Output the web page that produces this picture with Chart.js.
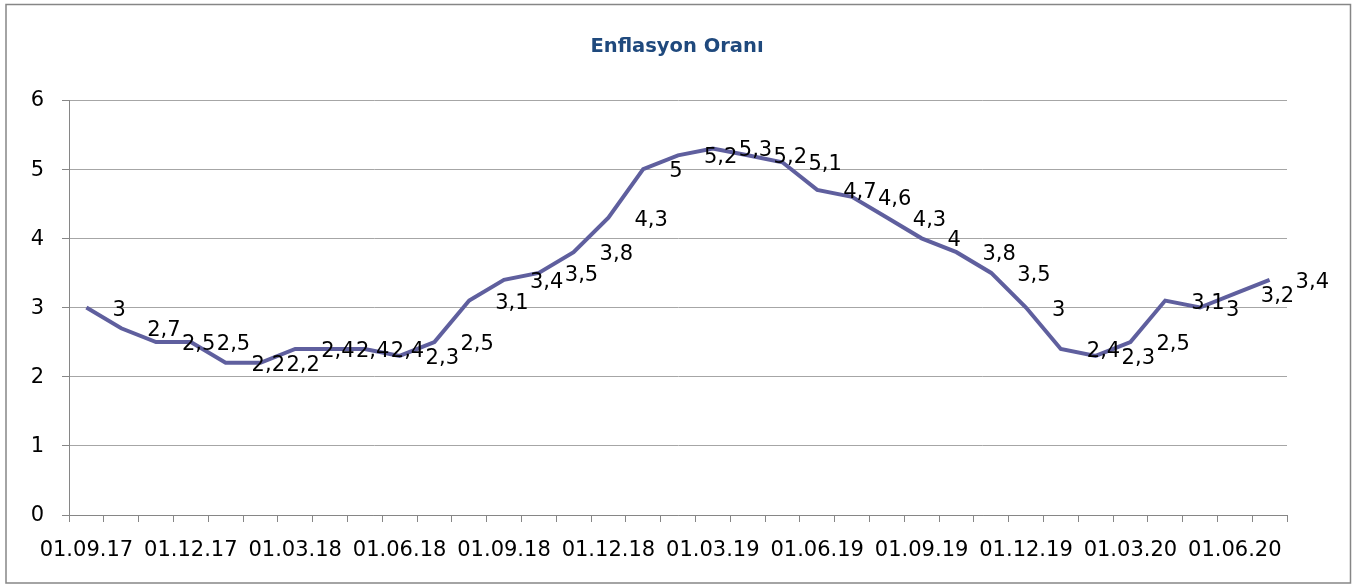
<!DOCTYPE html>
<html>
<head>
<meta charset="utf-8">
<script src="https://cdn.jsdelivr.net/npm/chart.js@4/dist/chart.umd.min.js"></script>
<style>
    html, body { margin: 0; padding: 0; background: #fff; }
    #wrap { width: 1360px; height: 584px; }
</style>
</head>
<body>
<div id="wrap"><canvas id="inflationChart" width="1360" height="584"></canvas></div>
<script>
// Chart data
const chartTitle = 'Enflasyon Oranı';
const months = [
    '01.09.17', '01.10.17', '01.11.17', '01.12.17', '01.01.18', '01.02.18', '01.03.18',
    '01.04.18', '01.05.18', '01.06.18', '01.07.18', '01.08.18', '01.09.18', '01.10.18',
    '01.11.18', '01.12.18', '01.01.19', '01.02.19', '01.03.19', '01.04.19', '01.05.19',
    '01.06.19', '01.07.19', '01.08.19', '01.09.19', '01.10.19', '01.11.19', '01.12.19',
    '01.01.20', '01.02.20', '01.03.20', '01.04.20', '01.05.20', '01.06.20', '01.07.20'
];
const inflation = [
    3, 2.7, 2.5, 2.5, 2.2, 2.2, 2.4,
    2.4, 2.4, 2.3, 2.5, 3.1, 3.4, 3.5,
    3.8, 4.3, 5, 5.2, 5.3, 5.2, 5.1,
    4.7, 4.6, 4.3, 4, 3.8, 3.5, 3,
    2.4, 2.3, 2.5, 3.1, 3, 3.2, 3.4
];
const yTicks = [0, 1, 2, 3, 4, 5, 6];

const FONT = "'DejaVu Sans', sans-serif";
const GRID = '#a6a6a6';
const AXIS = '#868686';

// Frame, title and point labels
const decorPlugin = {
    id: 'decor',
    beforeDraw(chart) {
        const ctx = chart.ctx;
        ctx.save();
        ctx.fillStyle = '#fff';
        ctx.fillRect(0, 0, chart.width, chart.height);
        ctx.strokeStyle = AXIS;
        ctx.lineWidth = 1.5;
        ctx.strokeRect(6, 4.5, 1344.5, 578.5);
        ctx.restore();
    },
    afterDraw(chart) {
        const ctx = chart.ctx;
        ctx.save();
        ctx.fillStyle = '#1f497d';
        ctx.font = "bold 19.5px " + FONT;
        ctx.textAlign = 'center';
        ctx.textBaseline = 'middle';
        ctx.fillText(chartTitle, 677, 47);

        ctx.fillStyle = '#000';
        ctx.font = "21px " + FONT;
        ctx.textAlign = 'left';
        ctx.textBaseline = 'alphabetic';
        const meta = chart.getDatasetMeta(0);
        meta.data.forEach((pt, i) => {
            const txt = String(inflation[i]).replace('.', ',');
            ctx.fillText(txt, pt.x + 26, pt.y + 8);
        });
        ctx.restore();
    }
};

const ctx = document.getElementById('inflationChart').getContext('2d');
const inflationChart = new Chart(ctx, {
    type: 'line',
    data: {
        labels: months,
        datasets: [{
            label: chartTitle,
            data: inflation,
            borderColor: '#5f5f9e',
            borderWidth: 4,
            pointRadius: 0,
            tension: 0,
            fill: false
        }]
    },
    options: {
        responsive: false,
        animation: false,
        layout: { padding: { top: 100, right: 73, bottom: 0, left: 0 } },
        plugins: {
            legend: { display: false },
            title: { display: false },
            tooltip: { enabled: false }
        },
        scales: {
            x: {
                offset: true,
                grid: {
                    offset: true,
                    drawOnChartArea: false,
                    drawTicks: true,
                    tickLength: 7,
                    color: AXIS
                },
                border: { display: true, color: AXIS, width: 1 },
                ticks: {
                    autoSkip: false,
                    maxRotation: 0,
                    minRotation: 0,
                    padding: 16,
                    color: '#000',
                    font: { family: FONT, size: 21 },
                    callback: function(value, index) {
                        return index % 3 === 0 ? months[index] : '';
                    }
                },
                afterFit(scale) { scale.height = 69; }
            },
            y: {
                min: 0,
                max: 6,
                afterBuildTicks(scale) {
                    scale.ticks = yTicks.map(v => ({ value: v }));
                },
                grid: {
                    color: GRID,
                    drawTicks: true,
                    tickLength: 7,
                    tickColor: AXIS
                },
                border: { display: true, color: AXIS, width: 1 },
                ticks: {
                    padding: 18,
                    labelOffset: 1,
                    color: '#000',
                    font: { family: FONT, size: 21 }
                },
                afterFit(scale) { scale.width = 69; }
            }
        }
    },
    plugins: [decorPlugin]
});
</script>
</body>
</html>
